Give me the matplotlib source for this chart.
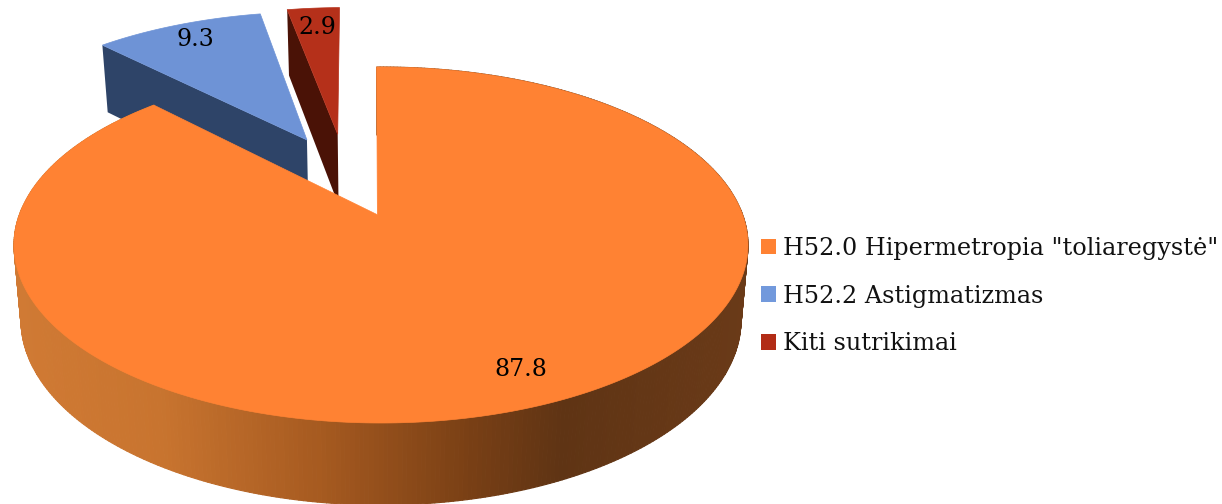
import numpy as np
import matplotlib
matplotlib.use('Agg')
import matplotlib.pyplot as plt
from matplotlib.collections import PolyCollection
from matplotlib.colors import LinearSegmentedColormap
from matplotlib.patches import Patch

categories = ['H52.0 Hipermetropia "toliaregystė"', 'H52.2 Astigmatizmas', 'Kiti sutrikimai']
values = [87.8, 9.3, 2.9]
value_labels = ['87.8', '9.3', '2.9']

top_colors = ['#FF8233', '#6E93D6', '#B5301A']
legend_colors = ['#FF8233', '#7299DC', '#B22C16']
cut_colors = ['#6A3A18', '#2E4468', '#4A1206']
label_pos = [(521, 369), (195, 40), (317, 27)]

# slice offsets in the plane of the pie (exploded pieces)
offsets = [(-0.010, 0.0), (-0.221, 0.467), (-0.130, 0.505)]
start_angle = -0.8
persp = 0.17

top_disc = (381, 245, 367, 178)
bottom_disc = (381, 320, 360, 185)

wall_cmap = LinearSegmentedColormap.from_list(
    'wall', [(0.0, '#D07A34'), (0.2, '#C8742F'), (0.42, '#A65A20'),
             (0.62, '#7A4015'), (0.75, '#5F3414'), (1.0, '#6A3A18')])


def project(u, v, disc):
    """Map pie plane coordinates to the picture, with a bit of perspective"""
    cx, cy, rx, ry = disc
    den = 1 + persp * v
    x = cx + rx * u * np.sqrt(1 - persp ** 2) / den
    y = cy - ry * (v + persp) / den
    return x, y


def rim(a0, a1, offset, disc, n=200):
    """Outer edge of a slice between two angles (degrees, clockwise from top)"""
    a = np.radians(np.linspace(a0, a1, n))
    return project(offset[0] + np.sin(a), offset[1] + np.cos(a), disc)


def cut_wall(a, offset):
    """Flat wall from the slice apex to the rim at angle a"""
    ax0, ay0 = project(offset[0], offset[1], top_disc)
    ax1, ay1 = rim(a, a, offset, top_disc, 1)
    bx0, by0 = project(offset[0], offset[1], bottom_disc)
    bx1, by1 = rim(a, a, offset, bottom_disc, 1)
    return [(ax0, ay0), (ax1[0], ay1[0]), (bx1[0], by1[0]), (bx0, by0)]


fig = plt.figure(figsize=(12.22, 5.04), dpi=100)
ax = fig.add_axes([0, 0, 1, 1])
ax.set_xlim(0, 1222)
ax.set_ylim(504, 0)
ax.axis('off')

edges = start_angle + np.concatenate(([0], np.cumsum(values))) * 3.6

# small slices first, the big one sits in front of them
for i in [1, 2, 0]:
    a0, a1 = edges[i], edges[i + 1]
    off = offsets[i]
    apex = project(off[0], off[1], top_disc)
    if i == 0:
        # shaded outer wall, made of thin strips
        tx, ty = rim(a0, a1, (0, 0), top_disc, 500)
        bx, by = rim(a0, a1, (0, 0), bottom_disc, 500)
        strips = [[(tx[k], ty[k]), (tx[k + 1], ty[k + 1]), (bx[k + 1], by[k + 1]), (bx[k], by[k])]
                  for k in range(len(tx) - 1)]
        shades = wall_cmap(np.clip((tx[:-1] - 14) / 734, 0, 1))
        ax.add_collection(PolyCollection(strips, facecolors=shades, edgecolors=shades, linewidths=0.8))
        rx_, ry_ = rim(a0, a1, (0, 0), top_disc, 800)
    else:
        ax.fill(*zip(*cut_wall(a0, off)), color=cut_colors[i], lw=0)
        rx_, ry_ = rim(a0, a1, off, top_disc, 100)
    ax.fill(np.r_[apex[0], rx_], np.r_[apex[1], ry_], color=top_colors[i], lw=0.5)

for text, pos in zip(value_labels, label_pos):
    ax.text(pos[0], pos[1], text, family='DejaVu Serif', fontsize=17, color='black',
            ha='center', va='center')

handles = [Patch(facecolor=c, edgecolor='none') for c in legend_colors]
ax.legend(handles, categories, loc='center left', bbox_to_anchor=(747 / 1222, 1 - 296 / 504),
          frameon=False, prop={'family': 'DejaVu Serif', 'size': 17.2},
          handlelength=0.63, handleheight=0.63, handletextpad=0.29, labelspacing=1.03,
          borderpad=0, borderaxespad=0.6, labelcolor='#111111')

fig.savefig('out.png', dpi=100)
